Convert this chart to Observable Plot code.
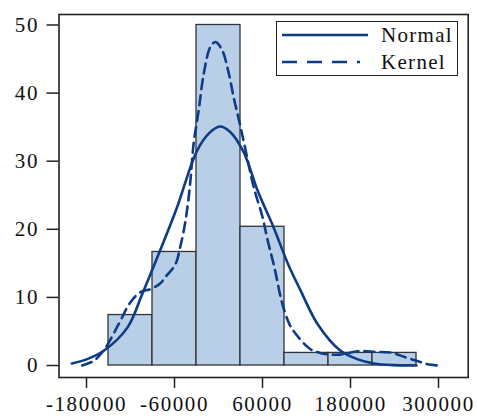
<!DOCTYPE html>
<html>
<head>
<meta charset="utf-8">
<script src="https://cdn.jsdelivr.net/npm/d3@7"></script>
<script src="https://cdn.jsdelivr.net/npm/@observablehq/plot@0.6"></script>
<style>
  body { margin: 0; background: #fff; }
  #wrap { position: relative; width: 477px; height: 416px; }
  #legend {
    position: absolute; left: 276px; top: 21px; width: 180px; height: 53px;
    border: 1.5px solid #222; background: #fff;
    font-family: "Liberation Serif", serif; font-size: 21px; letter-spacing: 1.3px; color: #111;
  }
  #legend .row { position: absolute; left: 0; height: 26px; display: flex; align-items: center; }
  #legend svg { display: block; }
  #legend span { margin-left: 8px; }
</style>
</head>
<body>
<div id="wrap">
  <div id="legend">
    <div class="row" style="top:0px"><svg width="96" height="26"><line x1="5" x2="91" y1="13" y2="13" stroke="#0d3b85" stroke-width="2.6"/></svg><span>Normal</span></div>
    <div class="row" style="top:27px"><svg width="96" height="26"><line x1="5" x2="83" y1="13" y2="13" stroke="#0d3b85" stroke-width="2.6" stroke-dasharray="15,10"/></svg><span>Kernel</span></div>
  </div>
</div>
<script>
// Histogram bins (percent of observations)
const binEdges = [-150000, -90000, -30000, 30000, 90000, 150000, 210000, 270000];
const percents = [7.41, 16.67, 50, 20.37, 1.85, 1.85, 1.85];

// Normal density curve
const normalX = [-200000, -180000, -156000, -124000, -104000, -86000, -58000, -29000, -12000, 2000, 16000, 34000, 54000, 75000, 96000, 112000, 135000, 166000, 190000, 212000, 240000, 270000];
const normalY = [0.3, 0.9, 2.2, 5.6, 10.5, 15.2, 22.8, 31.6, 34.2, 35.1, 34.3, 31.4, 25.5, 20.3, 14.6, 11.0, 6.1, 2.2, 0.9, 0.3, 0.05, 0];

// Kernel density curve
const kernelX = [-186000, -170000, -156000, -136000, -120000, -106000, -93000, -80000, -70000, -62000, -57000, -52000, -47000, -42000, -38000, -34000, -27000, -20000, -11000, -4000, 5000, 14000, 21000, 28000, 36000, 48000, 60000, 67000, 76000, 87000, 97000, 105000, 124000, 140000, 165000, 190000, 215000, 235000, 255000, 270000, 285000, 300000];
const kernelY = [0, 0.7, 2.3, 6.1, 9.3, 10.8, 11.2, 12.0, 13.3, 14.3, 15.3, 17.5, 20.0, 23.5, 27.5, 32.5, 37.5, 42.9, 46.8, 47.5, 46.3, 42.9, 39.2, 36.0, 32.1, 26.2, 21.8, 18.4, 14.5, 9.1, 6.0, 4.7, 2.5, 1.8, 1.6, 2.1, 2.0, 1.9, 1.2, 0.7, 0.2, 0];

const xTicks = [-180000, -60000, 60000, 180000, 300000];
const yTicks = [0, 10, 20, 30, 40, 50];

const bars = percents.map((p, i) => ({x1: binEdges[i], x2: binEdges[i + 1], y: p}));
const normal = normalX.map((x, i) => ({x, y: normalY[i]}));
const kernel = kernelX.map((x, i) => ({x, y: kernelY[i]}));

const curveColor = "#0d3b85";

const chart = Plot.plot({
  width: 477,
  height: 416,
  marginLeft: 58.5,
  marginRight: 9.3,
  marginTop: 14,
  marginBottom: 39,
  style: {fontFamily: "'Liberation Serif', serif", fontSize: "21px", letterSpacing: "1.6px", color: "#111", background: "#fff"},
  x: {domain: [-217500, 340500]},
  y: {domain: [-1.76, 51.54]},
  marks: [
    Plot.rectY(bars, {x1: "x1", x2: "x2", y: "y", fill: "#b9cfe8", stroke: "#333", strokeWidth: 1.3, inset: 0}),
    Plot.line(kernel, {x: "x", y: "y", stroke: curveColor, strokeWidth: 2.6, strokeDasharray: "10,6", curve: "catmull-rom"}),
    Plot.line(normal, {x: "x", y: "y", stroke: curveColor, strokeWidth: 2.6, curve: "catmull-rom"}),
    Plot.frame({stroke: "#222", strokeWidth: 1.6}),
    Plot.axisY({ticks: yTicks, tickSize: 12, tickPadding: 8, stroke: "#222", strokeWidth: 1.5, label: null}),
    Plot.axisX({ticks: xTicks, tickSize: 11, tickPadding: 7.5, stroke: "#222", strokeWidth: 1.5, label: null, tickFormat: d => String(d)})
  ]
});
document.getElementById("wrap").insertBefore(chart, document.getElementById("legend"));
</script>
</body>
</html>
